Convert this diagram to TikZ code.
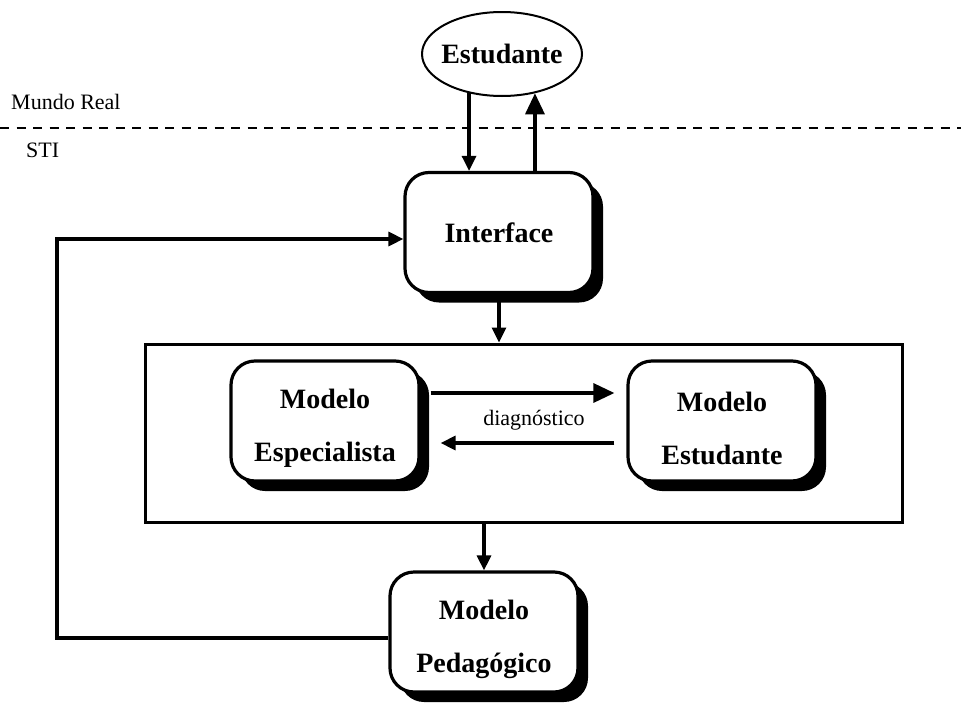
\documentclass[tikz,border=0pt]{standalone}
\usepackage{fontspec}
\setmainfont{Liberation Serif}
\usetikzlibrary{arrows.meta,shadows,shapes.geometric}
\tikzset{
  modbox/.style={draw, line width=3.2pt, rounded corners=24pt, fill=white,
    minimum width=188pt, minimum height=120pt, align=center,
    font=\bfseries\fontsize{28}{53}\selectfont,
    general shadow={fill=black, shadow xshift=10pt, shadow yshift=-10pt}},
  arr/.style={line width=3.2pt, -{Triangle[length=15pt,width=14pt]}},
  bigarr/.style={line width=3.2pt, -{Triangle[length=21pt,width=19pt]}},
  lbl/.style={font=\fontsize{22}{24}\selectfont, inner sep=0pt},
}
\newcommand{\upstrut}{\rule{0pt}{34pt}}
\begin{document}
\begin{tikzpicture}[x=1pt,y=-1pt]
\useasboundingbox (0,0) rectangle (961,704);
% dashed separator
\draw[line width=1.6pt, dash pattern=on 9pt off 7.5pt] (0,128) -- (961,128);
\node[lbl, anchor=west] (mundo) at (11,102) {Mundo Real};
\node[lbl, anchor=west] (sti) at (26,150) {STI};
% student
\node[draw, ellipse, line width=2pt, minimum width=160pt, minimum height=84pt,
  font=\bfseries\fontsize{28}{30}\selectfont, inner xsep=-4.5pt, inner ysep=0pt] (stud) at (502,54) {Estudante};
% boxes
\node[modbox] (iface) at (499,232.5) {Interface};
\node[draw, line width=3pt, minimum width=757pt, minimum height=178pt] (frame) at (523.5,433) {};
\node[modbox] (esp) at (325,421) {\upstrut Modelo\\Especialista};
\node[modbox] (est) at (722,421) {\upstrut Modelo\\Estudante};
\node[modbox] (ped) at (484,632) {\upstrut Modelo\\Pedag\'ogico};
% label
\node[lbl] (diag) at (534,420) {diagn\'ostico};
% connectors
\draw[arr] (stud.230) -- (stud.230 |- iface.north);
\draw[bigarr] (stud.310 |- iface.north) -- (stud.310);
\draw[arr] (iface.south) -- (iface.south |- frame.north);
\draw[arr] (ped.north |- frame.south) -- (ped.north);
\draw[bigarr] ([yshift=28pt,xshift=10pt]esp.east) -- ([yshift=28pt,xshift=-12pt]est.west);
\draw[arr] ([yshift=-22pt,xshift=-12pt]est.west) -- ([yshift=-22pt,xshift=20pt]esp.east);
\coordinate (fb) at (57,239);
\draw[arr] ([yshift=-6pt]ped.west) -| (fb) -- (fb -| iface.west);
\end{tikzpicture}
\end{document}
